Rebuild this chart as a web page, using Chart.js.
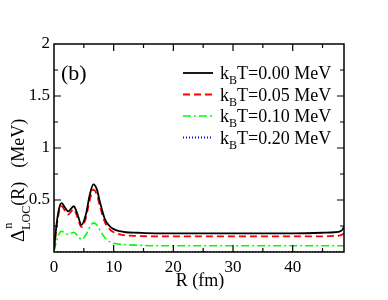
<!DOCTYPE html>
<html>
<head>
<meta charset="utf-8">
<script src="https://cdn.jsdelivr.net/npm/chart.js@4/dist/chart.umd.min.js"></script>
<style>
  body { margin: 0; background: #fff; }
  #wrap { width: 388px; height: 300px; position: relative; }
</style>
</head>
<body>
<div id="wrap"><canvas id="c"></canvas></div>
<script>
// R values (fm)
const radius = [0, 0.5, 1, 1.3, 1.8, 2.4, 2.9, 3.3, 3.9, 4.6, 5.3, 6, 6.6, 7.2, 7.7, 8.5, 9.3, 10, 11, 12, 14, 17, 20, 25, 30, 35, 40, 45, 47, 48, 48.4, 48.6];

// Delta^n_LOC(R) in MeV, one list per temperature
const gapT000 = [0.02, 0.30, 0.45, 0.47, 0.43, 0.39, 0.42, 0.44, 0.37, 0.26, 0.35, 0.55, 0.65, 0.60, 0.48, 0.32, 0.25, 0.22, 0.20, 0.19, 0.185, 0.18, 0.18, 0.18, 0.18, 0.18, 0.18, 0.185, 0.19, 0.20, 0.22, 0.25];
const gapT005 = [0.02, 0.27, 0.42, 0.44, 0.40, 0.36, 0.39, 0.41, 0.34, 0.24, 0.32, 0.50, 0.60, 0.55, 0.44, 0.29, 0.22, 0.19, 0.17, 0.16, 0.155, 0.15, 0.15, 0.15, 0.15, 0.15, 0.15, 0.15, 0.155, 0.16, 0.17, 0.18];
const gapT010 = [0.01, 0.12, 0.19, 0.20, 0.18, 0.17, 0.18, 0.19, 0.16, 0.12, 0.16, 0.24, 0.28, 0.26, 0.21, 0.14, 0.10, 0.085, 0.075, 0.07, 0.065, 0.06, 0.06, 0.06, 0.06, 0.06, 0.06, 0.06, 0.06, 0.06, 0.06, 0.06];
const gapT020 = [0, 0, 0, 0, 0, 0, 0, 0, 0, 0, 0, 0, 0, 0, 0, 0, 0, 0, 0, 0, 0, 0, 0, 0, 0, 0, 0, 0, 0, 0, 0, 0];

const temperatures = ['0.00', '0.05', '0.10', '0.20'];
const seriesColours = ['#000000', '#ff0000', '#00ff00', '#0000ff'];
const seriesDashes = [[], [7, 4], [8, 3, 2, 3], [1, 2]];

const xTickLabels = [0, 10, 20, 30, 40];
const yTickLabels = [0.5, 1, 1.5, 2];

const serif = "'Liberation Serif', 'DejaVu Serif', serif";

function points(ys) {
    return radius.map((r, i) => ({x: r, y: ys[i]}));
}

const allSeries = [gapT000, gapT005, gapT010, gapT020];
const datasets = allSeries.map((ys, i) => ({
    label: temperatures[i],
    data: points(ys),
    borderColor: seriesColours[i],
    borderDash: seriesDashes[i],
    borderWidth: i === 2 ? 1.6 : 1.8,
    pointRadius: 0,
    fill: false,
    cubicInterpolationMode: 'monotone'
}));

// frame, inward ticks, legend with subscripts, axis titles
const decorations = {
    id: 'decorations',
    afterDraw(chart) {
        const ctx = chart.ctx;
        const a = chart.chartArea;
        const xs = chart.scales.x, ys = chart.scales.y;
        ctx.save();
        ctx.strokeStyle = '#000';
        ctx.lineWidth = 1.5;
        ctx.setLineDash([]);
        ctx.strokeRect(a.left, a.top, a.right - a.left, a.bottom - a.top);

        ctx.lineWidth = 1.2;
        ctx.beginPath();
        for (let v = 5; v < xs.max; v += 5) {
            const px = xs.getPixelForValue(v);
            const len = v % 10 === 0 ? 7 : 4;
            ctx.moveTo(px, a.bottom); ctx.lineTo(px, a.bottom - len);
            ctx.moveTo(px, a.top); ctx.lineTo(px, a.top + len);
        }
        for (let v = 0.25; v < 2; v += 0.25) {
            const py = ys.getPixelForValue(v);
            const len = Math.abs(v * 2 - Math.round(v * 2)) < 1e-6 ? 7 : 4;
            ctx.moveTo(a.left, py); ctx.lineTo(a.left + len, py);
            ctx.moveTo(a.right, py); ctx.lineTo(a.right - len, py);
        }
        ctx.stroke();

        // panel tag
        ctx.fillStyle = '#000';
        ctx.font = '22px ' + serif;
        ctx.textBaseline = 'alphabetic';
        ctx.textAlign = 'left';
        ctx.fillText('(b)', 61, 80);

        // legend
        chart.data.datasets.forEach((ds, i) => {
            const y = 73 + i * 21.5;
            ctx.strokeStyle = ds.borderColor;
            ctx.lineWidth = ds.borderWidth;
            ctx.setLineDash(ds.borderDash);
            ctx.beginPath();
            ctx.moveTo(183, y); ctx.lineTo(213, y);
            ctx.stroke();
            ctx.setLineDash([]);
            ctx.fillStyle = '#000';
            let x = 220;
            const base = y + 6;
            ctx.font = '18px ' + serif;
            ctx.fillText('k', x, base);
            x += ctx.measureText('k').width;
            ctx.font = '12px ' + serif;
            ctx.fillText('B', x, base + 5);
            x += ctx.measureText('B').width;
            ctx.font = '18px ' + serif;
            ctx.fillText('T=' + ds.label + ' MeV', x, base);
        });

        // x title
        ctx.font = '18px ' + serif;
        ctx.textAlign = 'center';
        ctx.fillText('R (fm)', 200, 286);

        // y title, rotated
        ctx.translate(24, 190);
        ctx.rotate(-Math.PI / 2);
        ctx.textAlign = 'left';
        let x = -52;
        ctx.font = '19px ' + serif;
        ctx.fillText('\u0394', x, 0);
        x += ctx.measureText('\u0394').width;
        ctx.font = '12px ' + serif;
        ctx.fillText('n', x + 1, -12);
        ctx.fillText('LOC', x, 6);
        x += ctx.measureText('LOC').width;
        ctx.font = '18px ' + serif;
        ctx.fillText('(R)', x, 0);
        x += ctx.measureText('(R)').width + 14;
        ctx.fillText('(MeV)', x, 0);
        ctx.restore();
    }
};

new Chart(document.getElementById('c').getContext('2d'), {
    type: 'line',
    data: {datasets: datasets},
    options: {
        responsive: true,
        maintainAspectRatio: false,
        animation: false,
        layout: {padding: {left: 0, right: 44, top: 44, bottom: 0}},
        plugins: {legend: {display: false}, tooltip: {enabled: false}},
        scales: {
            x: {
                type: 'linear',
                min: 0,
                max: 48.6,
                afterFit: s => { s.height = 48; },
                afterBuildTicks: s => { s.ticks = xTickLabels.map(v => ({value: v})); },
                grid: {display: false, drawTicks: false},
                border: {display: false},
                ticks: {
                    autoSkip: false,
                    maxRotation: 0,
                    padding: 5,
                    color: '#000',
                    font: {family: serif, size: 17},
                    callback: v => String(v)
                }
            },
            y: {
                min: 0,
                max: 2,
                afterFit: s => { s.width = 54; },
                afterBuildTicks: s => { s.ticks = yTickLabels.map(v => ({value: v})); },
                grid: {display: false, drawTicks: false},
                border: {display: false},
                ticks: {
                    autoSkip: false,
                    padding: 4,
                    color: '#000',
                    font: {family: serif, size: 17},
                    callback: v => String(v)
                }
            }
        }
    },
    plugins: [decorations]
});
</script>
</body>
</html>
